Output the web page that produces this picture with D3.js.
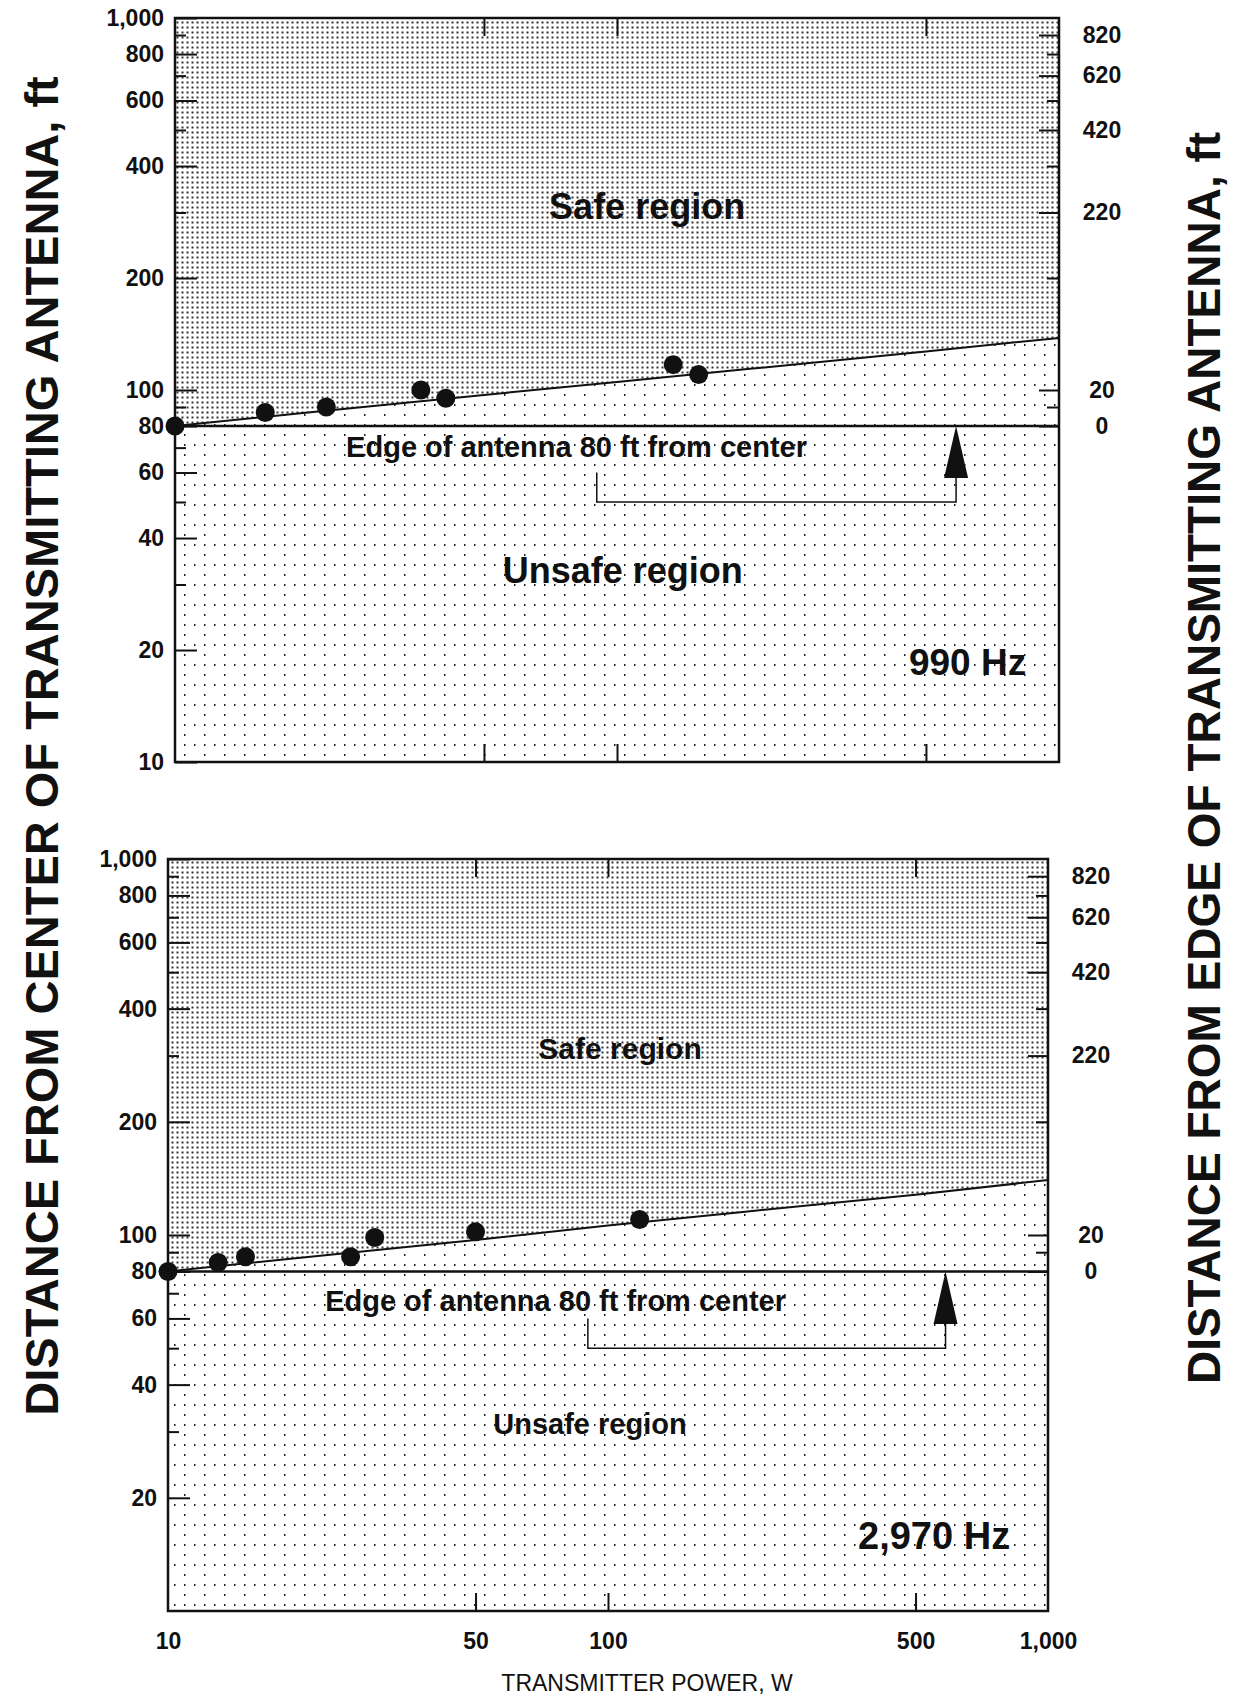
<!DOCTYPE html>
<html>
<head>
<meta charset="utf-8">
<script src="https://cdn.jsdelivr.net/npm/d3@7"></script>
<style>
  body { margin: 0; background: #fff; }
  svg { display: block; font-family: "Liberation Sans", Arial, Helvetica, sans-serif; }
</style>
</head>
<body>
<svg id="chart" width="1233" height="1699"></svg>
<script>
//x axis, transmitter power in W
const powerTicks = [10, 50, 100, 500, 1000]
const powerInnerTicks = [50, 100, 500]

//left axis, distance from center of antenna in ft
const centerTicks = [10, 20, 40, 60, 80, 100, 200, 400, 600, 800, 1000]
const centerMinor = [30, 50, 70, 90, 300, 500, 700, 900]

//right axis, distance from edge = center - 80
const antennaRadius = 80
const edgeTicks = [0, 20, 220, 420, 620, 820]
const edgeMinor = [10, 120, 320, 520, 720]

//safe / unsafe boundary, read at these powers
const boundaryPower = [10, 20, 50, 100, 200, 500, 1000]
const boundary990 = [80, 87, 97, 105, 114, 127, 138]
const boundary2970 = [80, 87, 97, 106, 115, 128, 140]

//measured points
const points990Power = [10, 16, 22, 36, 41, 134, 153]
const points990Dist = [80, 87, 90, 100, 95, 117, 110]
const points2970Power = [10, 13, 15, 26, 29.5, 50, 118]
const points2970Dist = [80, 84.5, 87.5, 87.5, 98.5, 102, 110]

//layout of the two panels
const PANELS = [{
  freq: "990 Hz",
  boundary: boundary990,
  px: points990Power,
  py: points990Dist,
  yLabels: centerTicks,
  box: { x0: 175, x1: 1059, y0: 18, y1: 762 },
  xLabels: false,
  notes: [
    { text: "Safe region", at: [117, 288], size: 36 },
    { text: "Unsafe region", at: [103, 30.3], size: 36 },
    { text: "990 Hz", at: [621, 17.1], size: 37 },
    { text: "Edge of antenna 80 ft from center", at: [81, 66], size: 29 }
  ]
}, {
  freq: "2,970 Hz",
  boundary: boundary2970,
  px: points2970Power,
  py: points2970Dist,
  yLabels: centerTicks.filter(d => d > 10),
  box: { x0: 168, x1: 1048, y0: 859, y1: 1611 },
  xLabels: true,
  notes: [
    { text: "Safe region", at: [106.5, 294], size: 30 },
    { text: "Unsafe region", at: [91, 29.6], size: 29 },
    { text: "2,970 Hz", at: [551, 14.6], size: 38 },
    { text: "Edge of antenna 80 ft from center", at: [76, 62.8], size: 29 }
  ]
}]

const svg = d3.select("#chart")
const defs = svg.append("defs")

//dense stipple for safe region
const dense = defs.append("pattern").attr("id", "dense")
  .attr("patternUnits", "userSpaceOnUse").attr("width", 5).attr("height", 5)
dense.append("rect").attr("width", 5).attr("height", 5).attr("fill", "#fff")
dense.append("rect").attr("x", 1.5).attr("y", 1.5).attr("width", 2).attr("height", 2).attr("fill", "#333")

//sparse stipple for unsafe region, one dot in four left out
const sparse = defs.append("pattern").attr("id", "sparse")
  .attr("patternUnits", "userSpaceOnUse").attr("width", 20).attr("height", 20)
sparse.append("rect").attr("width", 20).attr("height", 20).attr("fill", "#fff")
sparse.selectAll("rect.dot").data([[4, 4], [14, 4], [4, 14]]).enter()
  .append("rect").attr("class", "dot")
  .attr("x", d => d[0]).attr("y", d => d[1]).attr("width", 1.5).attr("height", 2).attr("fill", "#222")

const fmt = d3.format(",")

const styleAxis = (g, size) => {
  g.select(".domain").remove()
  g.attr("font-family", null).attr("font-size", size).attr("font-weight", "bold")
  g.selectAll("line").attr("stroke", "#111").attr("stroke-width", 2)
  g.selectAll("text").attr("fill", "#111")
}

const drawPanel = (p, i) => {
  let b = p.box
  let x = d3.scaleLog().domain([10, 1000]).range([b.x0, b.x1])
  let y = d3.scaleLog().domain([10, 1000]).range([b.y1, b.y0])
  let g = svg.append("g").attr("class", "panel-" + i)

  let boundary = boundaryPower.map((d, j) => [d, p.boundary[j]])

  //unsafe background for the whole frame
  g.append("rect").attr("x", b.x0).attr("y", b.y0)
    .attr("width", b.x1 - b.x0).attr("height", b.y1 - b.y0)
    .attr("fill", "url(#sparse)")

  //safe region above the boundary
  let area = d3.area().x(d => x(d[0])).y0(b.y0).y1(d => y(d[1]))
  g.append("path").datum(boundary).attr("d", area).attr("fill", "url(#dense)")

  //axes
  g.append("g").attr("transform", `translate(${b.x0},0)`)
    .call(d3.axisLeft(y).tickValues(p.yLabels).tickFormat(fmt).tickSize(-22).tickPadding(11))
    .call(a => styleAxis(a, 23))
  g.append("g").attr("transform", `translate(${b.x0},0)`)
    .call(d3.axisLeft(y).tickValues(centerMinor).tickFormat("").tickSize(-11))
    .call(a => styleAxis(a, 23))

  g.append("g").attr("transform", `translate(${b.x1},0)`)
    .call(d3.axisRight(y).tickValues(edgeTicks.map(e => e + antennaRadius))
      .tickFormat(d => fmt(d - antennaRadius)).tickSize(-20).tickPadding(43))
    .call(a => styleAxis(a, 23))
    .call(a => a.selectAll("text").attr("text-anchor", "middle"))
  g.append("g").attr("transform", `translate(${b.x1},0)`)
    .call(d3.axisRight(y).tickValues(edgeMinor.map(e => e + antennaRadius)).tickFormat("").tickSize(-12))
    .call(a => styleAxis(a, 23))

  g.append("g").attr("transform", `translate(0,${b.y1})`)
    .call(d3.axisBottom(x).tickValues(powerInnerTicks).tickFormat("").tickSize(-18))
    .call(a => styleAxis(a, 23))
  g.append("g").attr("transform", `translate(0,${b.y0})`)
    .call(d3.axisTop(x).tickValues(powerInnerTicks).tickFormat("").tickSize(-18))
    .call(a => styleAxis(a, 23))

  if (p.xLabels) {
    g.append("g").attr("transform", `translate(0,${b.y1})`)
      .call(d3.axisBottom(x).tickValues(powerTicks).tickFormat(fmt).tickSize(0).tickPadding(22))
      .call(a => styleAxis(a, 23))
  }

  //frame
  g.append("rect").attr("x", b.x0).attr("y", b.y0)
    .attr("width", b.x1 - b.x0).attr("height", b.y1 - b.y0)
    .attr("fill", "none").attr("stroke", "#111").attr("stroke-width", 2.5)

  //edge of antenna line
  g.append("line").attr("x1", b.x0).attr("x2", b.x1)
    .attr("y1", y(antennaRadius)).attr("y2", y(antennaRadius))
    .attr("stroke", "#111").attr("stroke-width", 2.5)

  //boundary line
  let line = d3.line().x(d => x(d[0])).y(d => y(d[1]))
  g.append("path").datum(boundary).attr("d", line)
    .attr("fill", "none").attr("stroke", "#111").attr("stroke-width", 2)

  //bracket and arrow to the edge line
  let bracket = [[90, 60], [90, 50], [585, 50], [585, 58]]
  g.append("path").datum(bracket).attr("d", line)
    .attr("fill", "none").attr("stroke", "#111").attr("stroke-width", 1.5)
  let ax = x(585)
  g.append("path")
    .attr("d", `M${ax},${y(antennaRadius)}L${ax - 12},${y(58)}L${ax + 12},${y(58)}Z`)
    .attr("fill", "#111")

  //points
  g.selectAll("circle.pt").data(p.px.map((d, j) => [d, p.py[j]])).enter()
    .append("circle").attr("class", "pt")
    .attr("cx", d => x(d[0])).attr("cy", d => y(d[1])).attr("r", 9.5)
    .attr("fill", "#111")

  //labels
  g.selectAll("text.note").data(p.notes).enter()
    .append("text").attr("class", "note")
    .attr("x", d => x(d.at[0])).attr("y", d => y(d.at[1]))
    .attr("text-anchor", "middle").attr("font-weight", "bold")
    .attr("font-size", d => d.size).attr("fill", "#111")
    .text(d => d.text)
}

PANELS.forEach(drawPanel)

//axis titles
svg.append("text")
  .attr("transform", "translate(41,746) rotate(-90)")
  .attr("dy", "0.36em").attr("text-anchor", "middle")
  .attr("font-size", 47).attr("font-weight", "bold").attr("fill", "#111")
  .text("DISTANCE FROM CENTER OF TRANSMITTING ANTENNA, ft")

svg.append("text")
  .attr("transform", "translate(1203,758) rotate(-90)")
  .attr("dy", "0.36em").attr("text-anchor", "middle")
  .attr("font-size", 46).attr("font-weight", "bold").attr("fill", "#111")
  .text("DISTANCE FROM EDGE OF TRANSMITTING ANTENNA, ft")

svg.append("text")
  .attr("x", 647).attr("y", 1691).attr("text-anchor", "middle")
  .attr("font-size", 23).attr("fill", "#111")
  .text("TRANSMITTER POWER, W")
</script>
</body>
</html>
